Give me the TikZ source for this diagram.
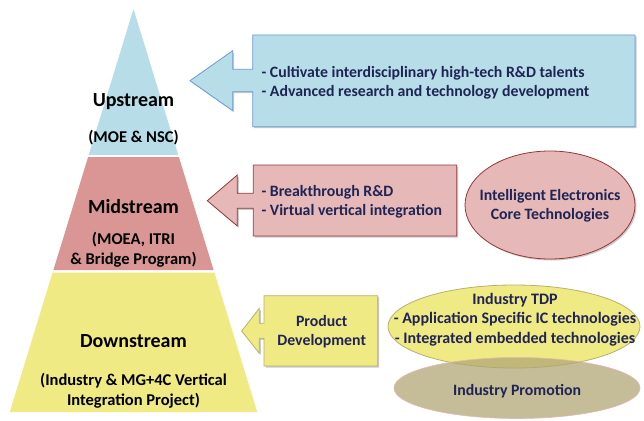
\documentclass[tikz,border=0pt]{standalone}
\usepackage{fontspec}
\setmainfont{Carlito}
\usetikzlibrary{shadows}
\definecolor{upblue}{HTML}{B7DDE8}
\definecolor{midpink}{HTML}{D99694}
\definecolor{downyel}{HTML}{F0EA84}
\definecolor{boxpink}{HTML}{E6B9B8}
\definecolor{blueline}{HTML}{6A9AD4}
\definecolor{redline}{HTML}{953735}
\definecolor{yelline}{HTML}{B8B06C}
\definecolor{tanfill}{RGB}{176,167,116}
\definecolor{tanline}{HTML}{E2B8B8}
\definecolor{navytext}{HTML}{1F2454}
\tikzset{
  shad/.style={drop shadow={shadow xshift=1.5pt,shadow yshift=-1.5pt,opacity=0.35,fill=black!60}},
  title/.style={font=\bfseries\fontsize{20}{22}\selectfont,text=black},
  sub/.style={font=\bfseries\fontsize{16.5}{19.5}\selectfont,text=black,align=center},
  boxtext/.style={font=\bfseries\fontsize{15.8}{19}\selectfont,text=navytext,align=left},
  ctext/.style={font=\bfseries\fontsize{15.8}{19}\selectfont,text=navytext,align=center}
}
\begin{document}
\begin{tikzpicture}[x=1pt,y=-1pt]
\useasboundingbox (0,0) rectangle (644,420);
% pyramid
\fill[upblue] (133.5,9) -- (178.3,155) -- (88.7,155) -- cycle;
\fill[midpink] (88.1,157) -- (178.9,157) -- (213.6,270) -- (53.4,270) -- cycle;
\fill[downyel] (52.6,272.5) -- (214.4,272.5) -- (257.2,412) -- (9.8,412) -- cycle;
\node[title] (up) at (133.5,101.5) {Upstream};
\node[sub] (upsub) at (133.5,138) {(MOE \& NSC)};
\node[title] (mid) at (133.5,207) {Midstream};
\node[sub] (midsub) at (133.5,250) {(MOEA, ITRI\\\& Bridge Program)};
\node[title] (down) at (133.5,341) {Downstream};
\node[sub] (downsub) at (133.5,391) {(Industry \& MG+4C Vertical\\Integration Project)};
% blue arrow box
\path[shad,fill=upblue,draw=blueline,line width=0.8pt]
  (252.7,35) -- (635,35) -- (635,126.7) -- (252.7,126.7) -- (252.7,91.7) -- (232.7,91.7)
  -- (232.7,110.7) -- (190,80.7) -- (232.7,50.7) -- (232.7,69.3) -- (252.7,69.3) -- cycle;
\node[boxtext,anchor=west] (bluetext) at (258,82.5) {- Cultivate interdisciplinary high-tech R\&D talents\\- Advanced research and technology development};
% pink arrow box
\path[shad,fill=boxpink,draw=redline,line width=0.8pt]
  (253.3,165) -- (456.7,165) -- (456.7,236) -- (253.3,236) -- (253.3,208.3) -- (237.3,208.3)
  -- (237.3,226) -- (207.3,200.7) -- (237.3,175) -- (237.3,193.3) -- (253.3,193.3) -- cycle;
\node[boxtext,anchor=west] (pinktext) at (258,201.5) {- Breakthrough R\&D\\- Virtual vertical integration};
% intelligent ellipse
\path[shad,fill=boxpink,draw=redline,line width=0.8pt] (550,205) ellipse [x radius=85,y radius=54];
\node[ctext] (intel) at (550,206) {Intelligent Electronics\\Core Technologies};
% yellow arrow box
\path[shad,fill=downyel,draw=yelline,line width=0.8pt]
  (264,295.7) -- (377.7,295.7) -- (377.7,366) -- (264,366) -- (264,338.3) -- (259.3,338.3)
  -- (259.3,353.3) -- (241.7,331) -- (259.3,308.3) -- (259.3,323.3) -- (264,323.3) -- cycle;
\node[ctext] (prod) at (321.7,332) {Product\\Development};
% TDP ellipse
\path[fill=downyel,draw=yelline,line width=0.8pt] (514,326.5) ellipse [x radius=126,y radius=41.5];
% industry promotion (translucent, over TDP)
\path[fill=tanfill,fill opacity=0.75,draw=tanline,line width=0.6pt] (517,388) ellipse [x radius=123,y radius=30.5];
\node[ctext] (promo) at (517,391.5) {Industry Promotion};
\node[ctext,font=\bfseries\fontsize{16}{19.5}\selectfont] (tdp) at (515,319.5) {Industry TDP\\- Application Specific IC technologies\\- Integrated embedded technologies};
\end{tikzpicture}
\end{document}
